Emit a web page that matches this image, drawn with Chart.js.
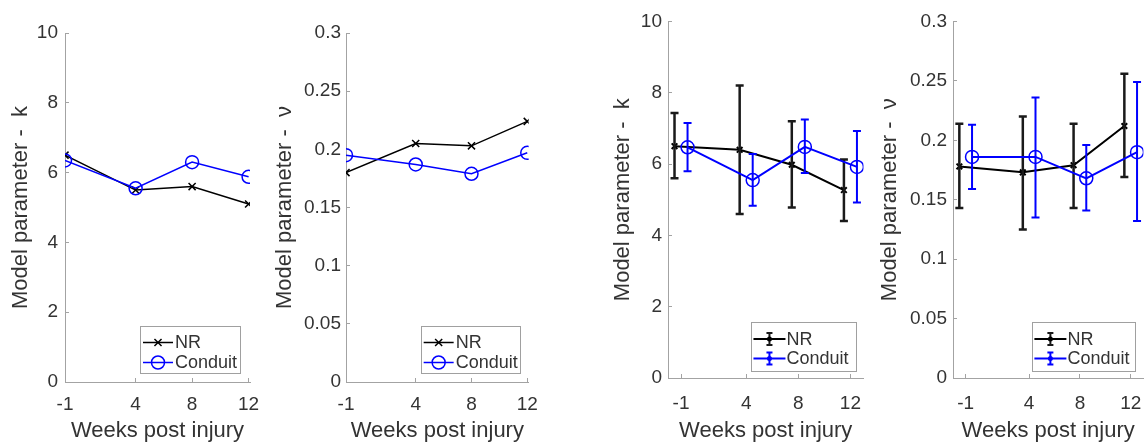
<!DOCTYPE html>
<html><head><meta charset="utf-8">
<script src="https://cdn.jsdelivr.net/npm/chart.js@4.4.1/dist/chart.umd.min.js"></script>
<style>
html,body{margin:0;padding:0;background:#fff;overflow:hidden;width:1147px;height:445px;position:relative;}
canvas{position:absolute;top:0;}
</style></head><body>
<canvas id="c1" width="285" height="445" style="left:0px"></canvas>
<canvas id="c2" width="290" height="445" style="left:263px"></canvas>
<canvas id="c3" width="290" height="445" style="left:590px"></canvas>
<canvas id="c4" width="290" height="445" style="left:870px"></canvas>
<script>
// ---------- data ----------
const weeks = [-1, 4, 8, 12];
const weekLabels = ['-1', '4', '8', '12'];
const seriesNames = ['NR', 'Conduit'];
const kTicks = [0, 2, 4, 6, 8, 10];
const nuTicks = [0, 0.05, 0.1, 0.15, 0.2, 0.25, 0.3];
const xTitle = 'Weeks post injury';
const kTitle = 'Model parameter -  k';
const nuTitle = 'Model parameter -  \u03bd';

// left pair: fitted parameters
const kNR_A = [6.5, 5.5, 5.6, 5.1];
const kConduit_A = [6.35, 5.55, 6.3, 5.88];
const nuNR_A = [0.18, 0.205, 0.203, 0.224];
const nuConduit_A = [0.195, 0.187, 0.179, 0.197];

// right pair: mean with error bars
const kNR_B = [6.5, 6.4, 5.98, 5.27];
const kNR_B_low = [5.6, 4.6, 4.78, 4.4];
const kNR_B_high = [7.43, 8.2, 7.2, 6.13];
const kConduit_B = [6.47, 5.55, 6.48, 5.92];
const kConduit_B_low = [5.8, 4.83, 5.75, 4.92];
const kConduit_B_high = [7.15, 6.28, 7.25, 6.93];
const nuNR_B = [0.178, 0.173, 0.179, 0.212];
const nuNR_B_low = [0.143, 0.125, 0.143, 0.169];
const nuNR_B_high = [0.214, 0.22, 0.214, 0.256];
const nuConduit_B = [0.186, 0.186, 0.168, 0.19];
const nuConduit_B_low = [0.159, 0.135, 0.141, 0.132];
const nuConduit_B_high = [0.213, 0.236, 0.196, 0.249];

// ---------- style ----------
const FONT = '"Liberation Sans", Arial, Helvetica, sans-serif';
const TXT = '#333333';
const AXIS = '#a3a3a3';
const BLACK = '#000000';
const BLUE = '#0000ff';
Chart.defaults.font.family = FONT;
Chart.defaults.color = TXT;

const errorBars = {
  id: 'errorBars',
  afterDatasetDraw(chart, args) {
    const ds = chart.data.datasets[args.index];
    if (!ds.errLow) return;
    const ctx = chart.ctx, xs = chart.scales.x, ys = chart.scales.y;
    const cap = 4;
    ctx.save();
    ctx.strokeStyle = ds.errColor || ds.borderColor;
    ctx.lineWidth = ds.errWidth || 2;
    ds.data.forEach((p, j) => {
      const x = xs.getPixelForValue(p.x);
      const yl = ys.getPixelForValue(ds.errLow[j]);
      const yh = ys.getPixelForValue(ds.errHigh[j]);
      ctx.beginPath();
      ctx.moveTo(x, yl); ctx.lineTo(x, yh);
      ctx.moveTo(x - cap, yl); ctx.lineTo(x + cap, yl);
      ctx.moveTo(x - cap, yh); ctx.lineTo(x + cap, yh);
      ctx.stroke();
    });
    ctx.restore();
  }
};

const boxLegend = {
  id: 'boxLegend',
  afterDraw(chart, args, o) {
    const {ctx, chartArea} = chart;
    const right = chartArea.right - o.marginRight;
    const bottom = chartArea.bottom - o.marginBottom;
    const left = right - o.width, top = bottom - o.height;
    ctx.save();
    ctx.fillStyle = '#ffffff';
    ctx.fillRect(left, top, o.width, o.height);
    ctx.strokeStyle = '#a0a0a0';
    ctx.lineWidth = 1;
    ctx.strokeRect(Math.round(left) + 0.5, Math.round(top) + 0.5, o.width - 1, o.height - 1);
    chart.data.datasets.forEach((ds, i) => {
      const y = top + o.rowTop + i * o.rowGap;
      const x0 = left + o.lineStart, x1 = left + o.lineEnd, xm = (x0 + x1) / 2;
      ctx.strokeStyle = ds.borderColor;
      ctx.lineWidth = ds.borderWidth;
      ctx.beginPath(); ctx.moveTo(x0, y); ctx.lineTo(x1, y); ctx.stroke();
      if (ds.errLow) {
        ctx.strokeStyle = ds.errColor || ds.borderColor;
        ctx.lineWidth = 2;
        const h = 6, c = 3;
        ctx.beginPath();
        ctx.moveTo(xm, y - h); ctx.lineTo(xm, y + h);
        ctx.moveTo(xm - c, y - h); ctx.lineTo(xm + c, y - h);
        ctx.moveTo(xm - c, y + h); ctx.lineTo(xm + c, y + h);
        ctx.stroke();
        ctx.fillStyle = ds.borderColor;
        ctx.beginPath(); ctx.arc(xm, y, 2.5, 0, Math.PI * 2); ctx.fill();
      } else {
        ctx.strokeStyle = ds.pointBorderColor || ds.borderColor;
        ctx.fillStyle = 'rgba(0,0,0,0)';
        Chart.helpers.drawPoint(ctx, {
          pointStyle: ds.pointStyle, rotation: 0,
          radius: ds.pointRadius, borderWidth: ds.pointBorderWidth
        }, xm, y);
      }
      ctx.fillStyle = TXT;
      ctx.font = '18px ' + FONT;
      ctx.textBaseline = 'middle';
      ctx.textAlign = 'left';
      ctx.fillText(ds.label, left + o.textStart, y + 1);
    });
    ctx.restore();
  }
};

function pts(xs, ys) { return xs.map((x, i) => ({x: x, y: ys[i]})); }

function makePanel(id, p) {
  const datasets = p.series.map((s, i) => ({
    label: seriesNames[i],
    data: pts(weeks.map(w => w + (p.offsets ? p.offsets[i] : 0)), s.values),
    errLow: s.low, errHigh: s.high,
    borderColor: i === 0 ? BLACK : BLUE,
    errColor: i === 0 ? '#1a1a1a' : BLUE,
    errWidth: i === 0 ? 2.5 : 2,
    borderWidth: p.lineWidth,
    pointStyle: i === 0 ? 'crossRot' : 'circle',
    pointRadius: i === 0 ? p.xRadius : 6.5,
    pointBorderWidth: i === 0 ? p.lineWidth : 1.5,
    pointBorderColor: i === 0 ? BLACK : BLUE,
    pointBackgroundColor: 'rgba(0,0,0,0)',
    fill: false, tension: 0,
    order: i === 0 ? 1 : 0
  }));
  new Chart(document.getElementById(id), {
    type: 'line',
    data: {datasets},
    plugins: [errorBars, boxLegend],
    options: {
      responsive: false, animation: false, devicePixelRatio: 1,
      layout: {padding: {left: 0, top: p.top, right: p.padRight, bottom: 0}},
      plugins: {
        legend: {display: false}, tooltip: {enabled: false},
        boxLegend: p.legend
      },
      scales: {
        x: {
          type: 'linear', min: p.xmin, max: p.xmax,
          afterBuildTicks: s => { s.ticks = weeks.map(v => ({value: v})); },
          afterFit: s => { s.height = p.xHeight; },
          ticks: {
            callback: (v, i) => weekLabels[i],
            font: {size: 19}, color: TXT, padding: p.xTickPad,
            maxRotation: 0, minRotation: 0, autoSkip: false
          },
          grid: {drawOnChartArea: false, drawTicks: true, tickLength: -4, color: AXIS, lineWidth: 1},
          border: {display: true, color: AXIS, width: 1},
          title: {display: true, text: xTitle, font: {size: 22}, color: TXT, padding: {top: 0, bottom: 1}}
        },
        y: {
          type: 'linear', min: 0, max: p.ymax,
          afterBuildTicks: s => { s.ticks = p.yTicks.map(v => ({value: v})); },
          afterFit: s => { s.width = p.yWidth; },
          ticks: {
            callback: v => String(v),
            font: {size: 19}, color: TXT, padding: p.yTickPad
          },
          grid: {drawOnChartArea: false, drawTicks: true, tickLength: -4, color: AXIS, lineWidth: 1},
          border: {display: true, color: AXIS, width: 1},
          title: {display: true, text: p.yTitle, font: {size: 22}, color: TXT, padding: {top: p.yTitlePad, bottom: 0}}
        }
      }
    }
  });
}

const legA = {marginRight: 9, marginBottom: 8, width: 101, height: 48, rowTop: 16.5, rowGap: 20, lineStart: 3, lineEnd: 33, textStart: 35};
const legB = {marginRight: 6, marginBottom: 6, width: 106, height: 50, rowTop: 17, rowGap: 19.5, lineStart: 2, lineEnd: 34, textStart: 35};

makePanel('c1', {
  series: [{values: kNR_A}, {values: kConduit_A}],
  top: 33, padRight: 35, xHeight: 63, yWidth: 65, xmin: -1, xmax: 12.1,
  ymax: 10, yTicks: kTicks, yTitle: kTitle, yTitlePad: 8, yTickPad: 11, xTickPad: 15,
  lineWidth: 1.5, xRadius: 5, legend: legA
});
makePanel('c2', {
  series: [{values: nuNR_A}, {values: nuConduit_A}],
  top: 33, padRight: 22, xHeight: 63, yWidth: 83, xmin: -1, xmax: 12.1,
  ymax: 0.3, yTicks: nuTicks, yTitle: nuTitle, yTitlePad: 9, yTickPad: 9, xTickPad: 15,
  lineWidth: 1.5, xRadius: 5, legend: Object.assign({}, legA, {marginRight: 8, width: 100})
});
makePanel('c3', {
  series: [{values: kNR_B, low: kNR_B_low, high: kNR_B_high},
           {values: kConduit_B, low: kConduit_B_low, high: kConduit_B_high}],
  offsets: [-0.5, 0.5],
  top: 16, padRight: 15, xHeight: 67, yWidth: 78, xmin: -2, xmax: 13,
  ymax: 10, yTicks: kTicks, yTitle: kTitle, yTitlePad: 20, yTickPad: 10, xTickPad: 18,
  lineWidth: 2, xRadius: 4, legend: legB
});
makePanel('c4', {
  series: [{values: nuNR_B, low: nuNR_B_low, high: nuNR_B_high},
           {values: nuConduit_B, low: nuConduit_B_low, high: nuConduit_B_high}],
  offsets: [-0.5, 0.5],
  top: 16, padRight: 11, xHeight: 67, yWidth: 83, xmin: -2, xmax: 13,
  ymax: 0.3, yTicks: nuTicks, yTitle: nuTitle, yTitlePad: 7, yTickPad: 10, xTickPad: 18,
  lineWidth: 2, xRadius: 4, legend: Object.assign({}, legB, {marginRight: 7, width: 104})
});
</script>
</body></html>
